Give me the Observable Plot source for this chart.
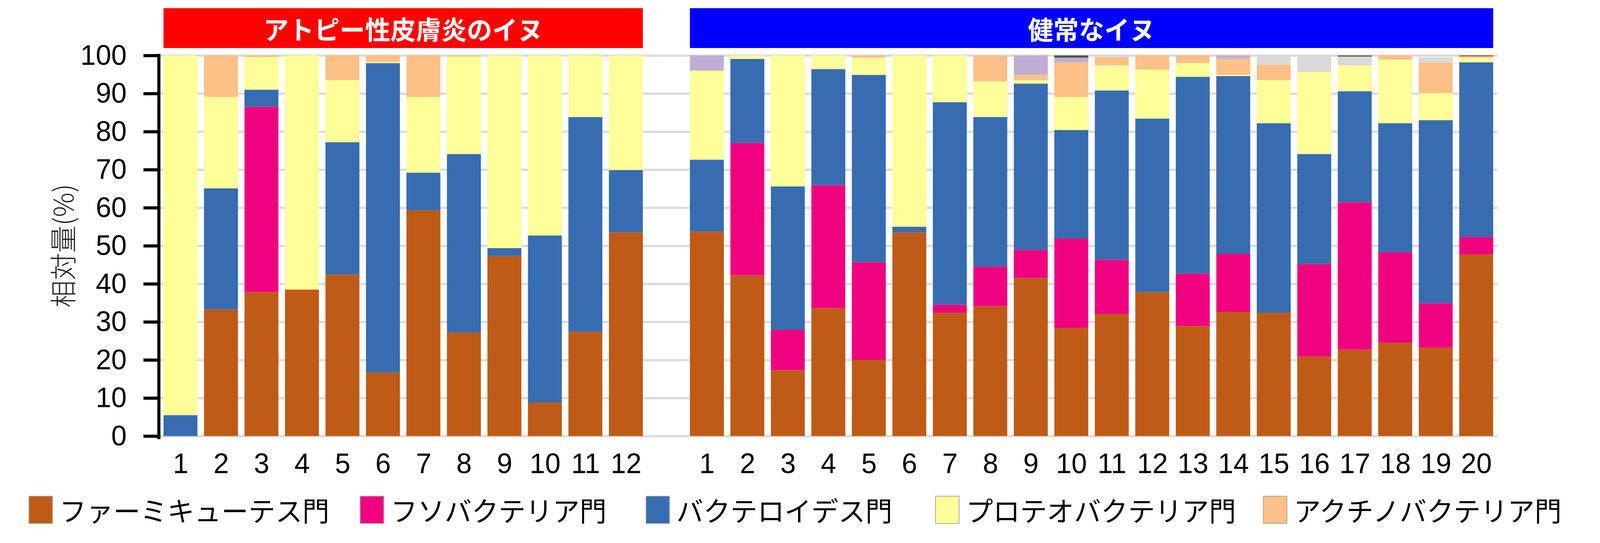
<!DOCTYPE html>
<html>
<head>
<meta charset="utf-8">
<script src="https://cdn.jsdelivr.net/npm/d3@7"></script>
<script src="https://cdn.jsdelivr.net/npm/@observablehq/plot@0.6"></script>
<style>
html, body { margin: 0; padding: 0; background: #fff; overflow: hidden; }
#wrap { position: relative; width: 4149px; height: 1391px; overflow: hidden; transform-origin: 0 0; }
.legend-item { position: absolute; top: 1270px; height: 72px; display: flex; align-items: center;
  font-family: "Noto Sans CJK JP", sans-serif; font-size: 70px; color: #000; white-space: nowrap; line-height: 1; }
.sw { width: 63px; height: 72px; box-sizing: border-box; border: 2px solid #a8a8a8; margin-right: 17px; flex: none; }
</style>
</head>
<body>
<div id="wrap"><div id="chart"></div></div>
<script>
// ---------------- DATA ----------------
const atopyDogs = ["1","2","3","4","5","6","7","8","9","10","11","12"];
const healthyDogs = ["1","2","3","4","5","6","7","8","9","10","11","12","13","14","15","16","17","18","19","20"];
const groupLabels = ["アトピー性皮膚炎のイヌ", "健常なイヌ"];
const groupColors = ["#ff0000", "#0000ff"];

const phyla = ["ファーミキューテス門", "フソバクテリア門", "バクテロイデス門", "プロテオバクテリア門", "アクチノバクテリア門", "その他1", "その他2", "その他3"];
const phylumColors = ["#bf5b17", "#f0027f", "#386cb0", "#ffff99", "#fdc086", "#beaed4", "#d9d9d9", "#555555"];
const legendPhyla = ["ファーミキューテス門", "フソバクテリア門", "バクテロイデス門", "プロテオバクテリア門", "アクチノバクテリア門"];

const yTicks = [0, 10, 20, 30, 40, 50, 60, 70, 80, 90, 100];

// relative abundance (%) per phylum: atopy dogs 1-12 then healthy dogs 1-20
const firmicutes = [0, 33.3, 37.8, 38.5, 42.4, 16.7, 59.3, 27.2, 47.3, 8.8, 27.4, 53.5,
  53.7, 42.2, 17.3, 33.6, 20.0, 53.5, 32.4, 34.1, 41.5, 28.4, 32.0, 37.8, 28.9, 32.6, 32.4, 20.9, 22.7, 24.5, 23.2, 47.7];
const fusobacteria = [0, 0, 48.7, 0, 0, 0, 0, 0, 0, 0, 0, 0,
  0, 34.8, 10.6, 32.3, 25.7, 0, 2.1, 10.4, 7.4, 23.5, 14.3, 0, 13.8, 15.3, 0, 24.3, 38.7, 23.8, 11.7, 4.6];
const bacteroidetes = [5.5, 31.8, 4.5, 0, 34.8, 81.3, 9.9, 46.9, 2.1, 43.9, 56.4, 16.4,
  18.9, 22.1, 37.7, 30.5, 49.2, 1.5, 53.2, 39.3, 43.7, 28.5, 44.5, 45.6, 51.7, 46.7, 49.8, 28.9, 29.2, 33.9, 48.1, 45.9];
const proteobacteria = [94.5, 24.0, 8.6, 61.5, 16.3, 0.3, 19.9, 25.6, 50.6, 47.3, 16.2, 30.1,
  23.4, 0.9, 34.4, 3.6, 4.5, 45.0, 12.3, 9.4, 0.9, 8.7, 6.6, 12.9, 3.6, 0.3, 11.3, 21.6, 6.8, 16.7, 7.1, 1.2];
const actinobacteria = [0, 10.9, 0.4, 0, 6.5, 1.7, 10.9, 0.3, 0, 0, 0, 0,
  0, 0, 0, 0, 0.6, 0, 0, 6.8, 1.4, 9.1, 2.1, 3.7, 2.0, 4.3, 4.1, 0, 0, 1.1, 8.1, 0.4];
const other1 = [0, 0, 0, 0, 0, 0, 0, 0, 0, 0, 0, 0,
  4.0, 0, 0, 0, 0, 0, 0, 0, 5.1, 1.2, 0, 0, 0, 0.8, 0, 0, 0, 0, 0, 0];
const other2 = [0, 0, 0, 0, 0, 0, 0, 0, 0, 0, 0, 0,
  0, 0, 0, 0, 0, 0, 0, 0, 0, 0, 0.5, 0, 0, 0, 2.4, 4.3, 2.3, 0, 1.3, 0];
const other3 = [0, 0, 0, 0, 0, 0, 0, 0, 0, 0, 0, 0,
  0, 0, 0, 0, 0, 0, 0, 0, 0, 0.6, 0, 0, 0, 0, 0, 0, 0.3, 0, 0, 0.2];

// ---------------- BUILD TABLE ----------------
const seriesValues = [firmicutes, fusobacteria, bacteroidetes, proteobacteria, actinobacteria, other1, other2, other3];
const ids = [...atopyDogs.map(d => "a" + d), ...healthyDogs.map(d => "h" + d)];
const xDomain = [...atopyDogs.map(d => "a" + d), "gap", ...healthyDogs.map(d => "h" + d)];
const rows = [];
ids.forEach((id, i) => {
  phyla.forEach((p, k) => {
    const v = seriesValues[k][i];
    if (v > 0) rows.push({id, phylum: p, value: v});
  });
});

const numFont = '"Liberation Sans", Arial, Helvetica, sans-serif';
const jpFont = '"Noto Sans CJK JP", sans-serif';

const chart = Plot.plot({
  width: 4149,
  height: 1240,
  marginLeft: 412,
  marginRight: 265,
  marginTop: 142,
  marginBottom: 123,
  x: {domain: xDomain, paddingInner: 0.164, paddingOuter: 0.076, axis: null},
  y: {domain: [0, 100], axis: null},
  color: {domain: phyla, range: phylumColors},
  style: {fontFamily: numFont, fontSize: "72px", background: "white", color: "black"},
  marks: [
    Plot.ruleY(yTicks, {stroke: "#dcdcdc", strokeWidth: 6}),
    Plot.barY(rows, {x: "id", y: "value", fill: "phylum", order: phyla}),
    Plot.axisY({ticks: yTicks, tickSize: 40, tickPadding: 44, strokeWidth: 8, label: null, fontSize: 72}),
    Plot.axisX({tickSize: 0, tickPadding: 43, label: null, fontSize: 72,
      tickFormat: d => d === "gap" ? "" : d.slice(1)})
  ]
});

document.getElementById("chart").appendChild(chart);

// ---------------- DECORATIONS FROM SCALES ----------------
const svg = d3.select(chart);
const xs = chart.scale("x");
const ys = chart.scale("y");
const bw = xs.bandwidth || 0;
const top100 = ys.apply(100);
const base0 = ys.apply(0);
const bandStart = v => xs.apply(v);

// y axis line
svg.append("line")
  .attr("x1", xs.range[0]).attr("x2", xs.range[0])
  .attr("y1", top100 - 4).attr("y2", base0 + 8)
  .attr("stroke", "black").attr("stroke-width", 8);

// y axis title
svg.append("text")
  .attr("transform", `translate(160, ${(top100 + base0) / 2}) rotate(-90)`)
  .attr("text-anchor", "middle")
  .attr("dominant-baseline", "central")
  .attr("font-family", jpFont)
  .attr("font-weight", 300)
  .attr("font-size", 70)
  .attr("fill", "#222")
  .text("相対量(%)");

// group headers (span of each group's bars)
const groups = [
  {label: groupLabels[0], first: "a" + atopyDogs[0], last: "a" + atopyDogs[atopyDogs.length - 1], color: groupColors[0]},
  {label: groupLabels[1], first: "h" + healthyDogs[0], last: "h" + healthyDogs[healthyDogs.length - 1], color: groupColors[1]}
];
groups.forEach(g => {
  const x0 = bandStart(g.first);
  const x1 = bandStart(g.last) + bw;
  const y0 = top100 - 121, y1 = top100 - 19;
  svg.append("rect").attr("x", x0).attr("y", y0).attr("width", x1 - x0).attr("height", y1 - y0).attr("fill", g.color);
  svg.append("text")
    .attr("x", (x0 + x1) / 2).attr("y", (y0 + y1) / 2)
    .attr("text-anchor", "middle").attr("dominant-baseline", "central")
    .attr("font-family", jpFont).attr("font-weight", "bold").attr("font-size", 66)
    .attr("fill", "white").text(g.label);
});

// ---------------- LEGEND ----------------
const legendLeft = [74, 933, 1674, 2425, 3275];
const wrap = document.getElementById("wrap");
legendPhyla.forEach((p, i) => {
  const item = document.createElement("div");
  item.className = "legend-item";
  item.style.left = legendLeft[i] + "px";
  const sw = document.createElement("div");
  sw.className = "sw";
  sw.style.background = phylumColors[phyla.indexOf(p)];
  const t = document.createElement("span");
  t.textContent = p;
  item.appendChild(sw);
  item.appendChild(t);
  wrap.appendChild(item);
});

// fit the 4149x1391 design to the actual viewport
function fit() {
  const vw = document.documentElement.clientWidth || window.innerWidth;
  const vh = document.documentElement.clientHeight || window.innerHeight;
  const sx = vw / 4149, sy = vh / 1391;
  wrap.style.transform = (Math.abs(sx - 1) > 0.001 || Math.abs(sy - 1) > 0.001) ? `scale(${sx}, ${sy})` : "";
}
fit();
window.addEventListener("resize", fit);
</script>
</body>
</html>
